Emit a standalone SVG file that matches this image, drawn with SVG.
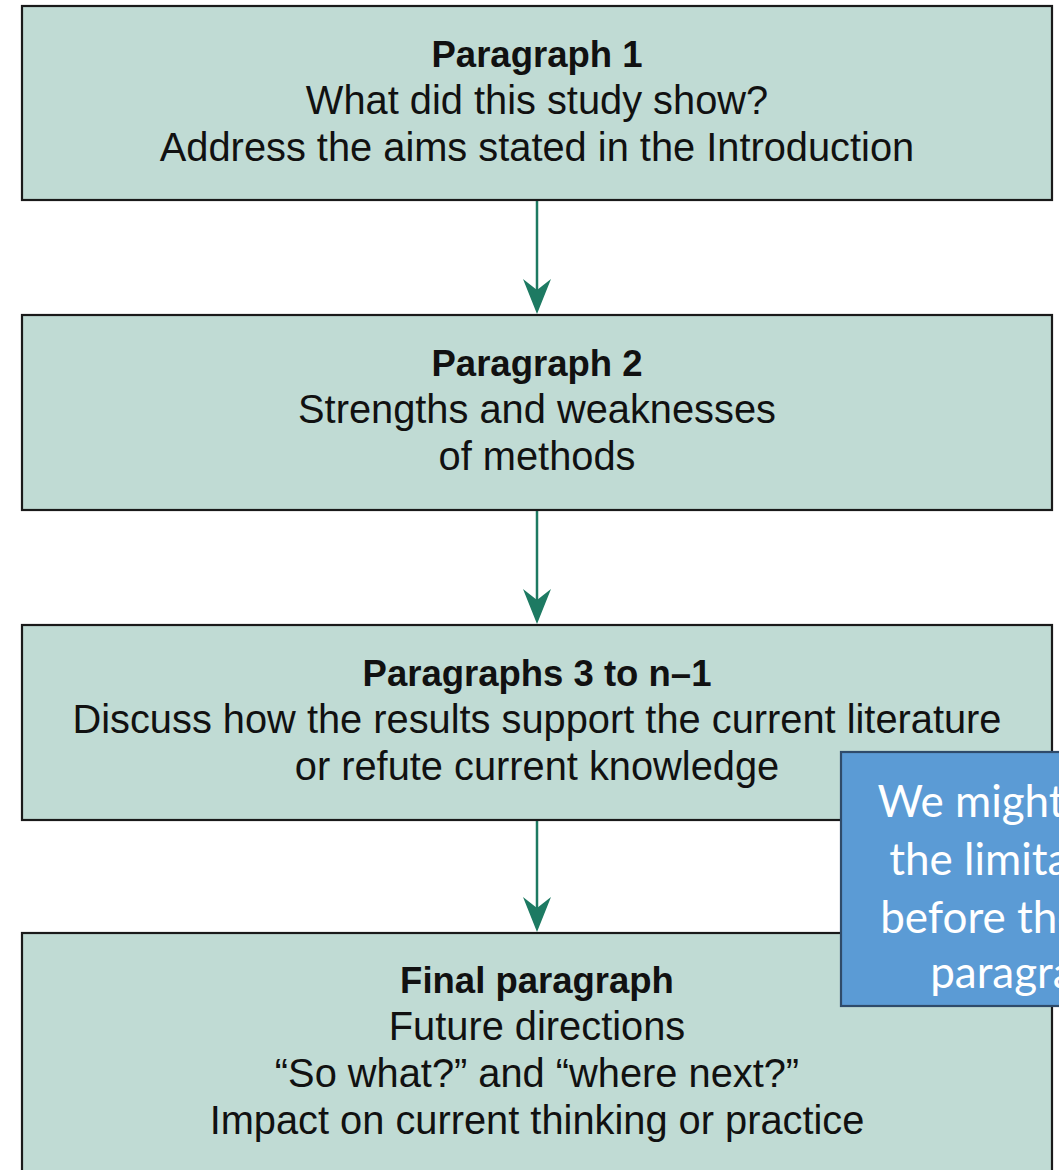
<svg xmlns="http://www.w3.org/2000/svg" width="1059" height="1170" viewBox="0 0 1059 1170">
<style>
.box{fill:#c0dbd4;stroke:#1a1a1a;stroke-width:2.2}
.t{font-family:"Liberation Sans",Arial,sans-serif;font-size:39.8px;fill:#111;text-anchor:middle}
.b{font-weight:bold;font-size:36.5px}
.conn{stroke:#1d7a62;stroke-width:2.5;fill:none}
.head{fill:#1d7a62}
.note{fill:#5b9bd5;stroke:#2f4b6a;stroke-width:2.2}
.nt{font-family:Lato,"Open Sans",sans-serif;font-size:44px;fill:#fff;text-anchor:middle}
</style>
<rect width="1059" height="1170" fill="#fff"/>
<g id="connectors">
<line class="conn" x1="537" y1="200" x2="537" y2="292"/>
<polygon class="head" points="537,314 523,279 537,290 551,279"/>
<line class="conn" x1="537" y1="510" x2="537" y2="602"/>
<polygon class="head" points="537,624 523,589 537,600 551,589"/>
<line class="conn" x1="537" y1="820" x2="537" y2="910"/>
<polygon class="head" points="537,932 523,897 537,908 551,897"/>
</g>
<g id="p1">
<rect class="box" x="22" y="6" width="1030" height="194"/>
<text class="t b" x="537" y="67">Paragraph 1</text>
<text class="t" x="537" y="114">What did this study show?</text>
<text class="t" x="537" y="161">Address the aims stated in the Introduction</text>
</g>
<g id="p2">
<rect class="box" x="22" y="315" width="1030" height="195"/>
<text class="t b" x="537" y="376">Paragraph 2</text>
<text class="t" x="537" y="423">Strengths and weaknesses</text>
<text class="t" x="537" y="470">of methods</text>
</g>
<g id="p3">
<rect class="box" x="22" y="625" width="1030" height="195"/>
<text class="t b" x="537" y="686">Paragraphs 3 to n–1</text>
<text class="t" x="537" y="733">Discuss how the results support the current literature</text>
<text class="t" x="537" y="780">or refute current knowledge</text>
</g>
<g id="p4">
<rect class="box" x="22" y="933" width="1030" height="260"/>
<text class="t b" x="537" y="993">Final paragraph</text>
<text class="t" x="537" y="1040">Future directions</text>
<text class="t" x="537" y="1087">“So what?” and “where next?”</text>
<text class="t" x="537" y="1134">Impact on current thinking or practice</text>
</g>
<g id="note">
<rect class="note" x="841" y="752" width="372" height="254"/>
<text class="nt" x="1027" y="817">We might place</text>
<text class="nt" x="1027" y="875">the limitations</text>
<text class="nt" x="1027" y="933">before the final</text>
<text class="nt" x="1027" y="988">paragraph</text>
</g>
</svg>
